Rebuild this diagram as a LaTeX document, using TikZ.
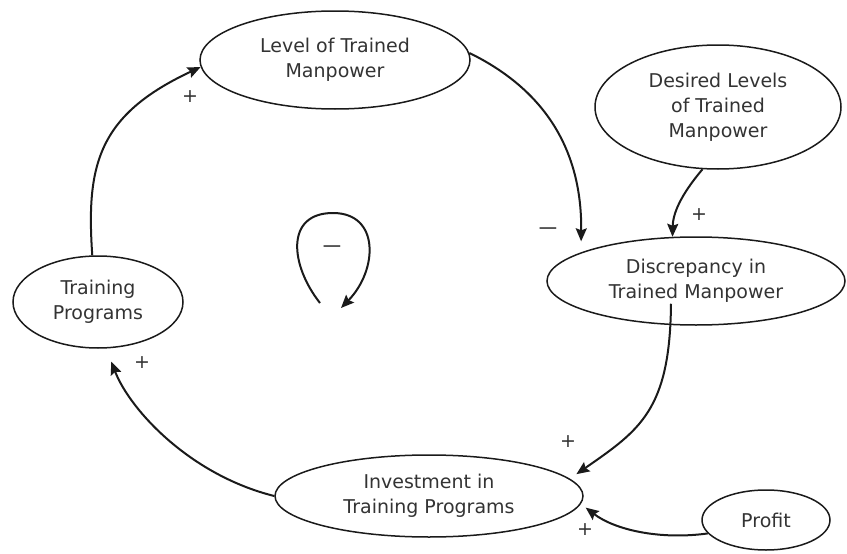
\documentclass[tikz,border=0pt]{standalone}
\usepackage{fontspec}
\setmainfont{DejaVu Sans}
\usetikzlibrary{shapes.geometric,arrows.meta}
\definecolor{ink}{HTML}{1A1A1A}
\definecolor{txt}{HTML}{333333}
\begin{document}
\begin{tikzpicture}[x=1pt,y=-1pt,
  var/.style={ellipse,draw=ink,line width=1.5pt,inner sep=0pt,align=center,
    text=txt,font=\fontsize{19}{25}\selectfont},
  link/.style={draw=ink,line width=2pt,-{Stealth[length=13pt,width=11pt,inset=2pt]}},
  sign/.style={text=txt,font=\fontsize{19}{19}\selectfont,inner sep=0pt}]
\useasboundingbox (0,0) rectangle (847,554);

% variables
\node[var,minimum width=270pt,minimum height=98pt] (lv) at (335,60) {Level of Trained\\Manpower};
\node[var,minimum width=246pt,minimum height=124pt] (des) at (718,107) {Desired Levels\\of Trained\\Manpower};
\node[var,minimum width=298pt,minimum height=88pt] (disc) at (696,281) {Discrepancy in\\Trained Manpower};
\node[var,minimum width=170pt,minimum height=92pt] (tp) at (98,302) {Training\\Programs};
\node[var,minimum width=308pt,minimum height=82pt] (inv) at (429,496) {Investment in\\Training Programs};
\node[var,minimum width=128pt,minimum height=60pt] (prof) at (766,520) {Profit};

% causal links
\draw[link] (tp.97) .. controls (86,165) and (98,115) .. (lv.183);
\draw[link,shorten >=11pt] (lv.3) .. controls (545,90) and (582,150) .. (disc.166);
\draw[link] (des.256) .. controls (685,190) and (673,210) .. (disc.118);
\draw[link,shorten >=8pt] ([xshift=-25pt,yshift=22pt]disc.south) .. controls (670,410) and (640,430) .. (inv.7);
\draw[link,shorten >=6pt] (prof.193) .. controls (660,540) and (615,530) .. (inv.-3);
\draw[link,shorten >=14pt] (inv.west) .. controls (190,475) and (130,410) .. (tp.-80);

% loop polarity marker
\coordinate (loopA) at (320,303);
\coordinate (loopB) at (341,308);
\draw[link] (loopA) .. controls (290,265) and (285,213) .. (333,213)
  .. controls (380,213) and (378,270) .. (loopB);

% polarity signs
\node[sign] (s1) at (190,97) {+};
\node[sign] (s2) at (548,231) {\scalebox{1.4}[1]{−}};
\node[sign] (s3) at (699,215) {+};
\node[sign] (s4) at (568,442) {+};
\node[sign] (s5) at (585,530) {+};
\node[sign] (s6) at (142,363) {+};
\node[sign] (s7) at (332,249) {\scalebox{1.4}[1]{−}};
\end{tikzpicture}
\end{document}
